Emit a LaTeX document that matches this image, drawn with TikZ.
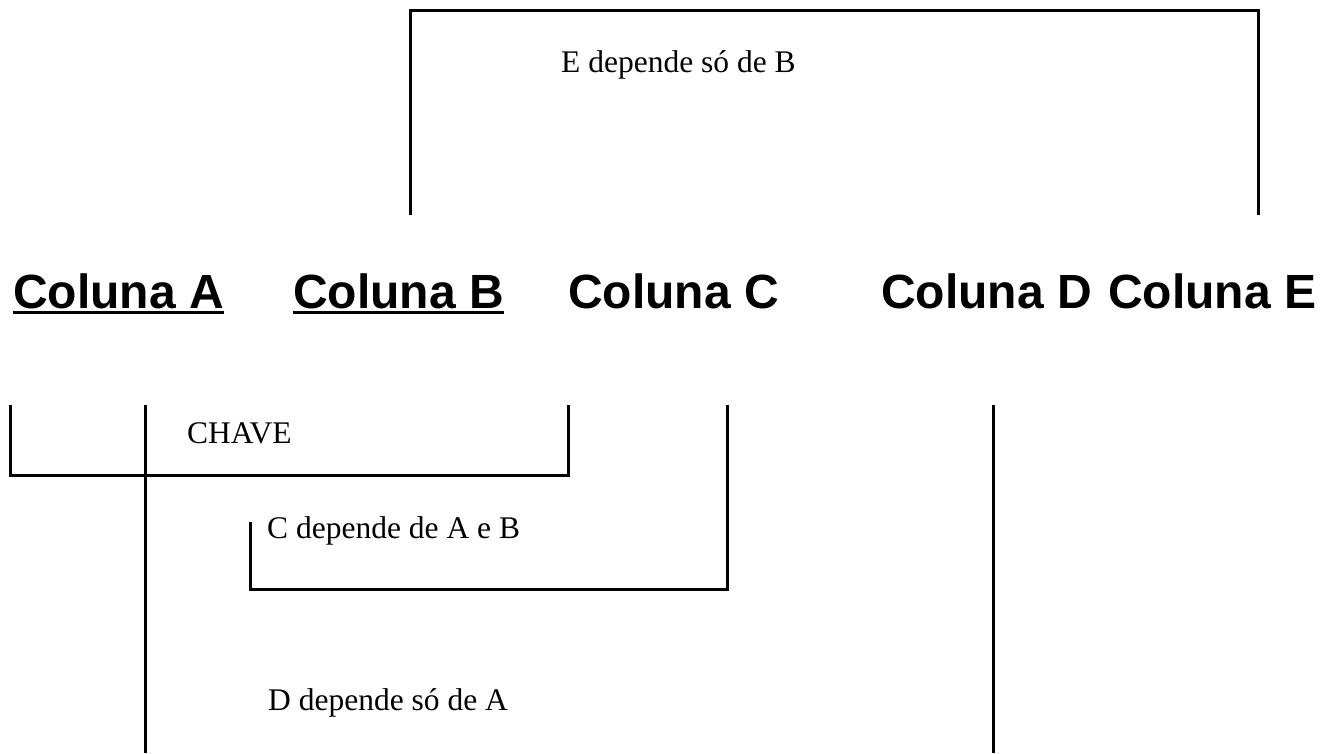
\documentclass[tikz,border=0pt]{standalone}
\usepackage{fontspec}
\setmainfont{Liberation Serif}
\newfontfamily\headfont{Liberation Sans}
\begin{document}
\begin{tikzpicture}[x=1pt,y=-1pt,
  frame/.style={line width=3pt, line cap=butt, line join=miter},
  note/.style={anchor=base west, inner sep=0pt, font=\fontsize{31.5}{36}\selectfont},
  head/.style={anchor=base west, inner sep=0pt, font=\headfont\bfseries\fontsize{48}{56}\selectfont},
  uline/.style={line width=3pt}]
\useasboundingbox[fill=white] (0,0) rectangle (1332,753);
% top bracket
\draw[frame] (410,215) -- (410,10) -- (1258,10) -- (1258,215);
\node[note] (e) at (561,72) {E depende só de B};
% headings
\node[head] (ca) at (13,308) {Coluna A};
\node[head] (cb) at (293,308) {Coluna B};
\node[head] (cc) at (568,308) {Coluna C};
\node[head] (cd) at (881,308) {Coluna D};
\node[head] (ce) at (1108,308) {Coluna E};
\draw[uline] ([yshift=-4.5pt]ca.base west) -- ([yshift=-4.5pt]ca.base east);
\draw[uline] ([yshift=-4.5pt]cb.base west) -- ([yshift=-4.5pt]cb.base east);
% key bracket
\draw[frame] (10,405) -- (10,475) -- (568,475) -- (568,405);
\draw[frame] (145,405) -- (145,753);
\node[note] (k) at (187,443) {CHAVE};
% C bracket
\draw[frame] (250,522) -- (250,589) -- (727,589) -- (727,405);
\node[note] (c) at (267,538) {C depende de A e B};
% D
\draw[frame] (993,405) -- (993,753);
\node[note] (d) at (268,710) {D depende só de A};
\end{tikzpicture}
\end{document}
